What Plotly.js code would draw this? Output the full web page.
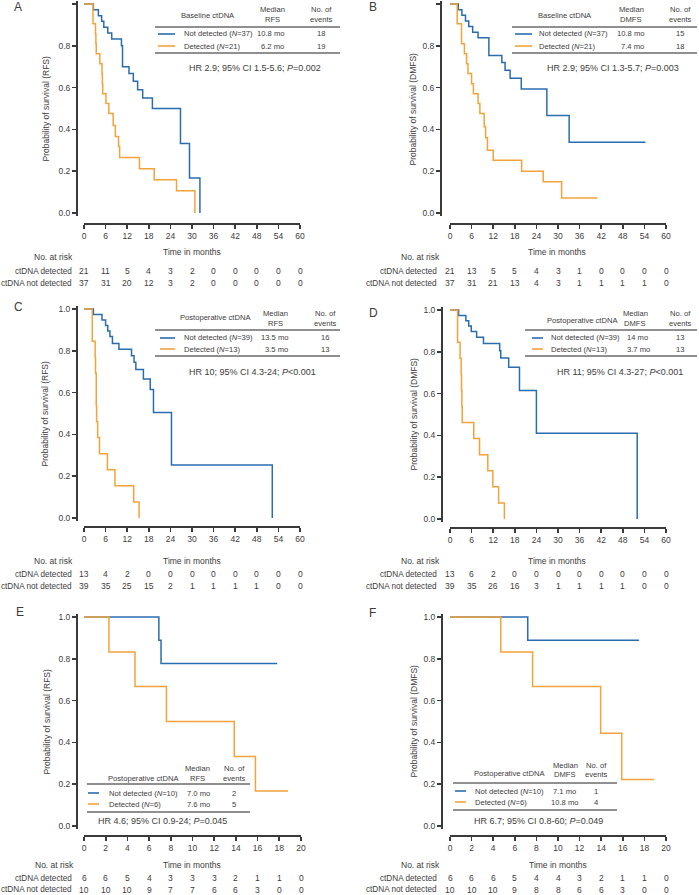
<!DOCTYPE html>
<html><head><meta charset="utf-8">
<script src="https://cdn.plot.ly/plotly-3.0.1.min.js"></script>
<style>html,body{margin:0;padding:0;background:#fff}#chart{width:699px;height:895px}</style>
</head><body><div id="chart"></div>
<script>
// ---------------- DATA ----------------
// Panel A (baseline ctDNA, RFS)
const A_notDet_time = [0, 2.6, 4.0, 4.9, 5.5, 6.6, 7.7, 10.4, 10.7, 12.5, 13.7, 14.9, 16.3, 19.0, 26.8, 29.3, 32.2];
const A_notDet_surv = [1, 0.972, 0.944, 0.917, 0.889, 0.861, 0.833, 0.80, 0.70, 0.667, 0.63, 0.59, 0.55, 0.50, 0.333, 0.167, 0];
const A_det_time = [0, 2.5, 3.2, 3.3, 3.4, 4.4, 5.0, 5.1, 5.2, 6.1, 6.9, 8.1, 8.7, 9.6, 9.9, 15.4, 19.5, 25.7, 30.8];
const A_det_surv = [1, 0.905, 0.857, 0.810, 0.762, 0.714, 0.667, 0.619, 0.571, 0.524, 0.476, 0.419, 0.366, 0.318, 0.265, 0.212, 0.159, 0.106, 0];
const A_risk_det = [21, 11, 5, 4, 3, 2, 0, 0, 0, 0, 0];
const A_risk_notDet = [37, 31, 20, 12, 3, 2, 0, 0, 0, 0, 0];
// Panel B (baseline ctDNA, DMFS)
const B_notDet_time = [0, 2.3, 3.3, 4.3, 5.2, 6.3, 7.8, 10.8, 14.4, 15.3, 16.7, 19.8, 26.9, 33.1, 54.3];
const B_notDet_surv = [1, 0.973, 0.946, 0.919, 0.892, 0.865, 0.838, 0.754, 0.72, 0.683, 0.645, 0.593, 0.466, 0.339, 0.339];
const B_det_time = [0, 2.0, 3.2, 4.0, 4.6, 5.0, 6.0, 6.5, 7.8, 8.3, 9.5, 9.9, 10.4, 12.0, 19.9, 25.9, 31.0, 40.9];
const B_det_surv = [1, 0.905, 0.81, 0.762, 0.714, 0.667, 0.619, 0.571, 0.524, 0.476, 0.413, 0.36, 0.30, 0.252, 0.20, 0.15, 0.072, 0.072];
const B_risk_det = [21, 13, 5, 5, 4, 3, 1, 0, 0, 0, 0];
const B_risk_notDet = [37, 31, 21, 13, 4, 3, 1, 1, 1, 1, 0];
// Panel C (postoperative ctDNA, RFS)
const C_notDet_time = [0, 2.6, 5.0, 6.0, 6.6, 7.2, 7.9, 9.7, 13.2, 13.9, 14.4, 16.5, 18.4, 19.3, 24.3, 52.3];
const C_notDet_surv = [1, 0.974, 0.947, 0.921, 0.895, 0.868, 0.835, 0.807, 0.776, 0.745, 0.71, 0.665, 0.615, 0.505, 0.253, 0];
const C_det_time = [0, 2.3, 3.1, 3.2, 3.4, 3.5, 3.8, 4.3, 6.5, 8.6, 13.8, 15.3];
const C_det_surv = [1, 0.846, 0.769, 0.692, 0.538, 0.462, 0.385, 0.308, 0.231, 0.154, 0.077, 0];
const C_risk_det = [13, 4, 2, 0, 0, 0, 0, 0, 0, 0, 0];
const C_risk_notDet = [39, 35, 25, 15, 2, 1, 1, 1, 1, 0, 0];
// Panel D (postoperative ctDNA, DMFS)
const D_notDet_time = [0, 2.4, 4.4, 5.2, 5.9, 7.4, 9.3, 13.8, 14.1, 16.3, 19.3, 24.0, 52.0];
const D_notDet_surv = [1, 0.974, 0.949, 0.923, 0.897, 0.87, 0.84, 0.805, 0.77, 0.726, 0.615, 0.41, 0];
const D_det_time = [0, 2.1, 2.8, 3.1, 3.2, 3.3, 3.4, 6.6, 8.2, 10.5, 11.9, 13.5, 15.1];
const D_det_surv = [1, 0.846, 0.769, 0.692, 0.615, 0.538, 0.462, 0.385, 0.308, 0.231, 0.154, 0.077, 0];
const D_risk_det = [13, 6, 2, 0, 0, 0, 0, 0, 0, 0, 0];
const D_risk_notDet = [39, 35, 26, 16, 3, 1, 1, 1, 1, 0, 0];
// Panel E (postoperative ctDNA subgroup, RFS)
const E_notDet_time = [0, 6.9, 7.1, 17.8];
const E_notDet_surv = [1, 0.889, 0.778, 0.778];
const E_det_time = [0, 2.3, 4.7, 7.6, 13.85, 15.8, 18.8];
const E_det_surv = [1, 0.833, 0.667, 0.5, 0.333, 0.167, 0.167];
const E_risk_det = [6, 6, 5, 4, 3, 3, 3, 2, 1, 1, 0];
const E_risk_notDet = [10, 10, 10, 9, 7, 7, 6, 6, 3, 0, 0];
// Panel F (postoperative ctDNA subgroup, DMFS)
const F_notDet_time = [0, 7.2, 17.5];
const F_notDet_surv = [1, 0.889, 0.889];
const F_det_time = [0, 4.7, 7.65, 13.95, 15.9, 18.9];
const F_det_surv = [1, 0.833, 0.667, 0.444, 0.222, 0.222];
const F_risk_det = [6, 6, 6, 5, 4, 4, 3, 2, 1, 1, 0];
const F_risk_notDet = [10, 10, 10, 9, 8, 8, 6, 6, 3, 0, 0];

const xTicks60 = [0, 6, 12, 18, 24, 30, 36, 42, 48, 54, 60];
const xTicks20 = [0, 2, 4, 6, 8, 10, 12, 14, 16, 18, 20];
const yTicks = [0, 0.2, 0.4, 0.6, 0.8, 1.0];

const panelLetters = ['A', 'B', 'C', 'D', 'E', 'F'];
const yTitles = ['Probability of survival (RFS)', 'Probability of survival (DMFS)',
  'Probability of survival (RFS)', 'Probability of survival (DMFS)',
  'Probability of survival (RFS)', 'Probability of survival (DMFS)'];
const xTitle = 'Time in months';
const riskTitle = 'No. at risk';
const rowLabels = ['ctDNA detected', 'ctDNA not detected'];
const legendGroupHeaders = ['Baseline ctDNA', 'Baseline ctDNA', 'Postoperative ctDNA', 'Postoperative ctDNA', 'Postoperative ctDNA', 'Postoperative ctDNA'];
const medianHeaderTop = 'Median';
const medianHeaderBottom = ['RFS', 'DMFS', 'RFS', 'DMFS', 'RFS', 'DMFS'];
const eventsHeaderTop = 'No. of';
const eventsHeaderBottom = 'events';
const notDetLabels = ['Not detected (<i>N</i>=37)', 'Not detected (<i>N</i>=37)', 'Not detected (<i>N</i>=39)', 'Not detected (<i>N</i>=39)', 'Not detected (<i>N</i>=10)', 'Not detected (<i>N</i>=10)'];
const detLabels = ['Detected (<i>N</i>=21)', 'Detected (<i>N</i>=21)', 'Detected (<i>N</i>=13)', 'Detected (<i>N</i>=13)', 'Detected (<i>N</i>=6)', 'Detected (<i>N</i>=6)'];
const notDetMedians = ['10.8 mo', '10.8 mo', '13.5 mo', '14 mo', '7.0 mo', '7.1 mo'];
const detMedians = ['6.2 mo', '7.4 mo', '3.5 mo', '3.7 mo', '7.6 mo', '10.8 mo'];
const notDetEvents = [18, 15, 16, 13, 2, 1];
const detEvents = [19, 18, 13, 13, 5, 4];
const hrTexts = ['HR 2.9; 95% CI 1.5-5.6; <i>P</i>=0.002', 'HR 2.9; 95% CI 1.3-5.7; <i>P</i>=0.003',
  'HR 10; 95% CI 4.3-24; <i>P</i>&lt;0.001', 'HR 11; 95% CI 4.3-27; <i>P</i>&lt;0.001',
  'HR 4.6; 95% CI 0.9-24; <i>P</i>=0.045', 'HR 6.7; 95% CI 0.8-60; <i>P</i>=0.049'];

// ---------------- LAYOUT GEOMETRY (pixels) ----------------
const W = 699, H = 895;
const fx = p => p / W;
const fy = p => 1 - p / H;
const G = [
  {x0:84, x1:300, yTop:4, yBot:213, yAxX:77, xAxY:224, letter:[18,7], yTitleX:45, xTitleP:[192,252], riskP:[75,257], rowsY:[271,283], rowLabelX:74,
   leg:{grp:[208,16], medT:[272,10], medB:[272,19], evT:[321,10], evB:[321,19], rule:[155,340], ruleY:[27,53], rowY:[34,46], sample:[158,175], textX:182, medX:286, medA:'right', evX:321, hr:[255,68]}},
  {x0:450, x1:666, yTop:4, yBot:213, yAxX:441, xAxY:224, letter:[373,7], yTitleX:412, xTitleP:[557,252], riskP:[442,257], rowsY:[271,283], rowLabelX:439,
   leg:{grp:[565,16], medT:[631,9.5], medB:[631,19], evT:[680,10], evB:[680,19], rule:[512,697], ruleY:[27,53], rowY:[34,46], sample:[515,532], textX:537, medX:646, medA:'right', evX:680, hr:[613,68]}},
  {x0:84, x1:300, yTop:309, yBot:518, yAxX:77, xAxY:527, letter:[18,307], yTitleX:45, xTitleP:[192,561], riskP:[75,561], rowsY:[574,586], rowLabelX:74,
   leg:{grp:[215,318], medT:[275,313], medB:[275,323], evT:[325,313], evB:[325,323], rule:[155,340], ruleY:[330,356], rowY:[338,349], sample:[160,175], textX:182, medX:290, medA:'right', evX:325, hr:[252,372]}},
  {x0:450, x1:666, yTop:310, yBot:519, yAxX:442, xAxY:528, letter:[373,313], yTitleX:413, xTitleP:[557,561], riskP:[442,561], rowsY:[574,586], rowLabelX:439,
   leg:{grp:[582,320], medT:[635,313], medB:[635,323], evT:[680,313], evB:[680,323], rule:[525,697], ruleY:[330,356], rowY:[338,349], sample:[532,543], textX:549, medX:625, medA:'left', evX:680, hr:[620,372]}},
  {x0:84, x1:301, yTop:617, yBot:826, yAxX:77, xAxY:836, letter:[20,612], yTitleX:46, xTitleP:[192,865], riskP:[76,865], rowsY:[878,889.5], rowLabelX:74,
   leg:{grp:[143,778], medT:[197,768], medB:[197,778], evT:[234,768], evB:[234,778], rule:[87,250], ruleY:[784,812], rowY:[793,804], sample:[88,99], textX:107, medX:198, medA:'center', evX:234, hr:[162,821]}},
  {x0:450, x1:666, yTop:617, yBot:826, yAxX:442, xAxY:836, letter:[372,613], yTitleX:413, xTitleP:[558,865], riskP:[442,865], rowsY:[878,889.5], rowLabelX:439,
   leg:{grp:[509,773], medT:[565,765], medB:[565,774], evT:[596,765], evB:[596,774], rule:[453,617], ruleY:[783,810], rowY:[791,802], sample:[455,466], textX:473, medX:564, medA:'center', evX:596, hr:[538,821]}}
];

const panels = [
  {nt:A_notDet_time, ns:A_notDet_surv, dt:A_det_time, ds:A_det_surv, rd:A_risk_det, rn:A_risk_notDet, ticks:xTicks60, xmax:60},
  {nt:B_notDet_time, ns:B_notDet_surv, dt:B_det_time, ds:B_det_surv, rd:B_risk_det, rn:B_risk_notDet, ticks:xTicks60, xmax:60},
  {nt:C_notDet_time, ns:C_notDet_surv, dt:C_det_time, ds:C_det_surv, rd:C_risk_det, rn:C_risk_notDet, ticks:xTicks60, xmax:60},
  {nt:D_notDet_time, ns:D_notDet_surv, dt:D_det_time, ds:D_det_surv, rd:D_risk_det, rn:D_risk_notDet, ticks:xTicks60, xmax:60},
  {nt:E_notDet_time, ns:E_notDet_surv, dt:E_det_time, ds:E_det_surv, rd:E_risk_det, rn:E_risk_notDet, ticks:xTicks20, xmax:20},
  {nt:F_notDet_time, ns:F_notDet_surv, dt:F_det_time, ds:F_det_surv, rd:F_risk_det, rn:F_risk_notDet, ticks:xTicks20, xmax:20}
];

// ---------------- STYLE ----------------
const FONT = 'Liberation Sans, Arial, Helvetica, sans-serif';
const TXT = '#3c3c3c';
const AX = '#3a3a3a';
const BLUE = '#2a6cb0';
const ORANGE = '#f4a23b';
const FS = 8.5;     // axis ticks, titles, risk table
const FS_ROW = 8.2; // risk table row labels
const FS_LEG = 7.6; // legend table text
const FS_HR = 9;    // hazard ratio line

const traces = [];
const annotations = [];
const shapes = [];
const layout = {
  width: W, height: H, margin: {l:0, r:0, t:0, b:0},
  paper_bgcolor: '#fff', plot_bgcolor: 'rgba(0,0,0,0)',
  showlegend: false, font: {family: FONT, size: FS, color: TXT}
};

function ann(text, x, y, o) {
  o = o || {};
  return {text: text, x: fx(x), y: fy(y), xref: 'paper', yref: 'paper', showarrow: false,
    xanchor: o.xa || 'center', yanchor: 'middle', textangle: o.angle || 0,
    font: {family: FONT, size: o.size || FS, color: TXT}};
}

panels.forEach((p, i) => {
  const g = G[i];
  const sfx = i === 0 ? '' : String(i + 1);
  const xa = 'x' + sfx, ya = 'y' + sfx;
  const pad = 0.012;
  const spanPx = g.yBot - g.yTop;
  const topPx = g.yTop - pad * spanPx, botPx = g.yBot + pad * spanPx;

  layout['xaxis' + sfx] = {
    domain: [fx(g.x0), fx(g.x1)], range: [0, p.xmax], anchor: 'free', position: fy(g.xAxY),
    tickmode: 'array', tickvals: p.ticks, ticks: 'outside', ticklen: 4, tickwidth: 1.6, tickcolor: AX,
    showline: true, linecolor: AX, linewidth: 2, showgrid: false, zeroline: false,
    tickfont: {family: FONT, size: FS, color: TXT}, fixedrange: true
  };
  layout['yaxis' + sfx] = {
    domain: [fy(botPx), fy(topPx)], range: [-pad, 1 + pad], anchor: 'free', position: fx(g.yAxX),
    tickmode: 'array', tickvals: yTicks, tickformat: '.1f', ticks: 'outside', ticklen: 4, tickwidth: 1.6, tickcolor: AX,
    showline: true, linecolor: AX, linewidth: 2, showgrid: false, zeroline: false,
    tickfont: {family: FONT, size: FS, color: TXT}, fixedrange: true
  };

  traces.push({type: 'scatter', mode: 'lines', x: p.nt, y: p.ns, xaxis: xa, yaxis: ya,
    line: {shape: 'hv', color: BLUE, width: 1.5}, hoverinfo: 'skip', name: 'Not detected'});
  traces.push({type: 'scatter', mode: 'lines', x: p.dt, y: p.ds, xaxis: xa, yaxis: ya,
    line: {shape: 'hv', color: ORANGE, width: 1.5}, hoverinfo: 'skip', name: 'Detected'});

  // panel letter & axis titles
  annotations.push(ann(panelLetters[i], g.letter[0], g.letter[1], {size: 12}));
  annotations.push(ann(yTitles[i], g.yTitleX, (g.yTop + g.yBot) / 2, {angle: -90}));
  annotations.push(ann(xTitle, g.xTitleP[0], g.xTitleP[1]));
  annotations.push(ann(riskTitle, g.riskP[0], g.riskP[1], {xa: 'right'}));
  annotations.push(ann(rowLabels[0], g.rowLabelX, g.rowsY[0], {xa: 'right', size: FS_ROW}));
  annotations.push(ann(rowLabels[1], g.rowLabelX, g.rowsY[1], {xa: 'right', size: FS_ROW}));

  // numbers at risk, placed on the x scale
  p.ticks.forEach((t, j) => {
    [p.rd, p.rn].forEach((row, r) => {
      annotations.push({text: String(row[j]), x: t, xref: xa, y: fy(g.rowsY[r]), yref: 'paper',
        showarrow: false, xanchor: 'center', yanchor: 'middle', font: {family: FONT, size: FS, color: TXT}});
    });
  });

  // legend table
  const L = g.leg;
  const lg = {size: FS_LEG};
  annotations.push(ann(legendGroupHeaders[i], L.grp[0], L.grp[1], lg));
  annotations.push(ann(medianHeaderTop, L.medT[0], L.medT[1], lg));
  annotations.push(ann(medianHeaderBottom[i], L.medB[0], L.medB[1], lg));
  annotations.push(ann(eventsHeaderTop, L.evT[0], L.evT[1], lg));
  annotations.push(ann(eventsHeaderBottom, L.evB[0], L.evB[1], lg));
  annotations.push(ann(notDetLabels[i], L.textX, L.rowY[0], {xa: 'left', size: FS_LEG}));
  annotations.push(ann(detLabels[i], L.textX, L.rowY[1], {xa: 'left', size: FS_LEG}));
  annotations.push(ann(notDetMedians[i], L.medX, L.rowY[0], {xa: L.medA, size: FS_LEG}));
  annotations.push(ann(detMedians[i], L.medX, L.rowY[1], {xa: L.medA, size: FS_LEG}));
  annotations.push(ann(String(notDetEvents[i]), L.evX, L.rowY[0], lg));
  annotations.push(ann(String(detEvents[i]), L.evX, L.rowY[1], lg));
  annotations.push(ann(hrTexts[i], L.hr[0], L.hr[1], {size: FS_HR}));

  L.ruleY.forEach(yy => shapes.push({type: 'line', xref: 'paper', yref: 'paper',
    x0: fx(L.rule[0]), x1: fx(L.rule[1]), y0: fy(yy), y1: fy(yy), line: {color: '#222', width: 1.1}}));
  shapes.push({type: 'line', xref: 'paper', yref: 'paper', x0: fx(L.sample[0]), x1: fx(L.sample[1]),
    y0: fy(L.rowY[0]), y1: fy(L.rowY[0]), line: {color: BLUE, width: 1.6}});
  shapes.push({type: 'line', xref: 'paper', yref: 'paper', x0: fx(L.sample[0]), x1: fx(L.sample[1]),
    y0: fy(L.rowY[1]), y1: fy(L.rowY[1]), line: {color: ORANGE, width: 1.6}});
});

layout.annotations = annotations;
layout.shapes = shapes;

Plotly.newPlot('chart', traces, layout, {displayModeBar: false, staticPlot: true});
</script>
</body></html>
